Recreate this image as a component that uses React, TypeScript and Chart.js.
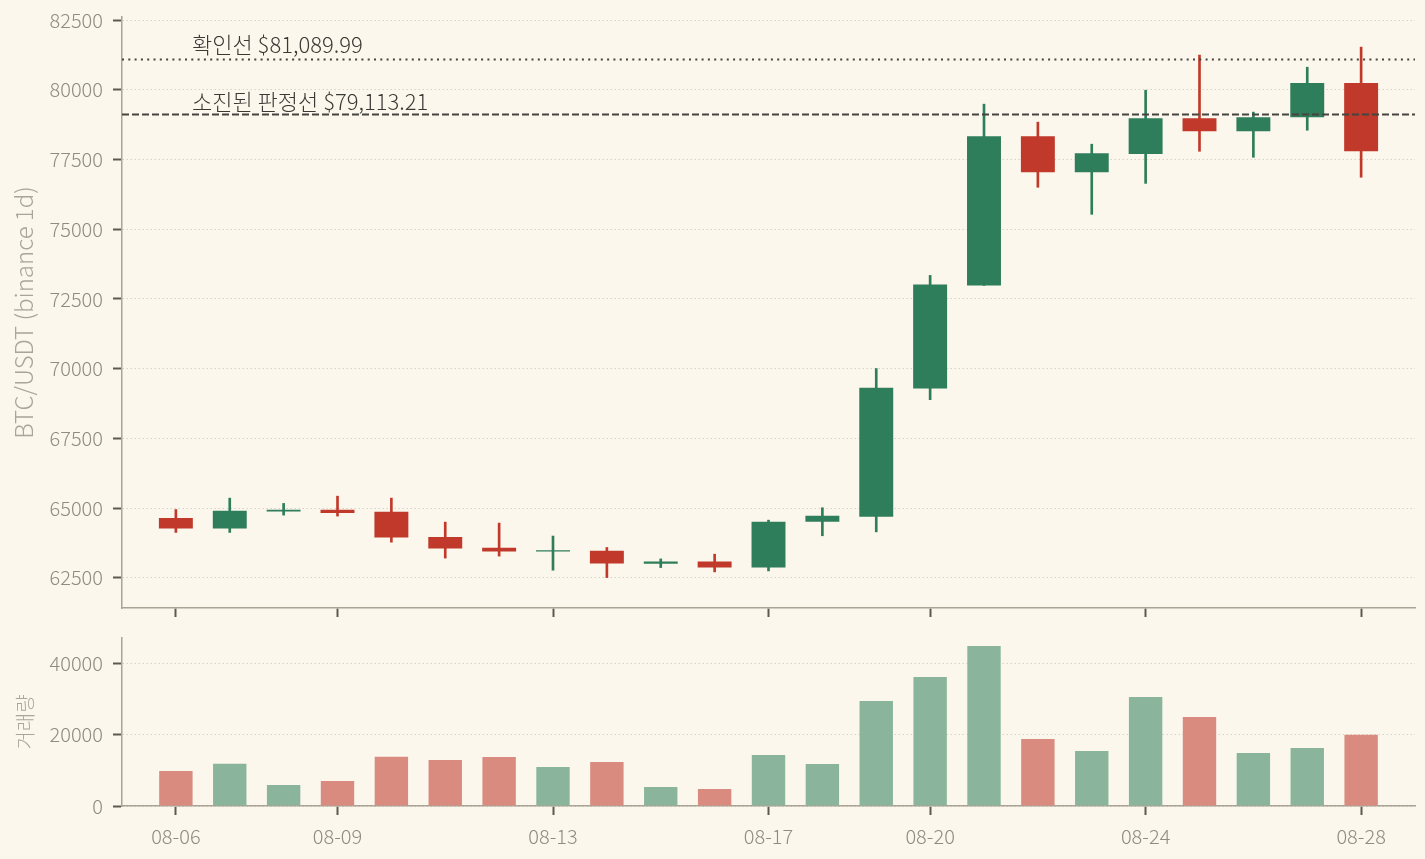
import React, { useEffect, useRef } from 'react';
import { Chart, registerables } from 'chart.js';

Chart.register(...registerables);

// ---------- data ----------
const DATES = [
  '08-06', '08-07', '08-08', '08-09', '08-10', '08-11', '08-12', '08-13',
  '08-14', '08-15', '08-16', '08-17', '08-18', '08-19', '08-20', '08-21',
  '08-22', '08-23', '08-24', '08-25', '08-26', '08-27', '08-28',
];
const OPEN = [
  64650, 64270, 64880, 64940, 64870, 63970, 63580, 63450,
  63470, 63010, 63085, 62870, 64510, 64690, 69290, 72985,
  78335, 77040, 77700, 78980, 78515, 79015, 80240,
];
const HIGH = [
  64950, 65360, 65170, 65430, 65360, 64500, 64465, 64000,
  63590, 63180, 63350, 64570, 65015, 70005, 73345, 79485,
  78840, 78050, 79985, 81245, 79200, 80810, 81530,
];
const LOW = [
  64130, 64130, 64750, 64715, 63780, 63210, 63280, 62775,
  62510, 62870, 62715, 62750, 64010, 64150, 68890, 72985,
  76505, 75535, 76645, 77795, 77580, 78550, 76865,
];
const CLOSE = [
  64270, 64905, 64940, 64830, 63950, 63550, 63445, 63490,
  63015, 63085, 62870, 64510, 64725, 69320, 73020, 78335,
  77040, 77725, 78980, 78515, 79015, 80240, 77795,
];
const VOLUME = [
  9800, 11800, 5870, 6990, 13750, 12870, 13700, 10900,
  12300, 5310, 4750, 14270, 11750, 29370, 36080, 44750,
  18740, 15380, 30490, 24900, 14830, 16250, 19900,
];
const PRICE_TICKS = [62500, 65000, 67500, 70000, 72500, 75000, 77500, 80000, 82500];
const VOLUME_TICKS = [0, 20000, 40000];
const DATE_TICKS = ['08-06', '08-09', '08-13', '08-17', '08-20', '08-24', '08-28'];

const CONFIRM_LINE = 81089.99;
const EXHAUSTED_LINE = 79113.21;
const CONFIRM_LABEL = '확인선 $81,089.99';
const EXHAUSTED_LABEL = '소진된 판정선 $79,113.21';
const PRICE_TITLE = 'BTC/USDT (binance 1d)';
const VOLUME_TITLE = '거래량';

// ---------- style ----------
const BG = '#fbf7ed';
const GREEN = '#2e7d5b';
const RED = '#c0392b';
const GREEN_VOL = '#8ab59c';
const RED_VOL = '#d98b80';
const SPINE = '#aaa495';
const TICK_MARK = '#5b5a52';
const TICK_TEXT = '#8f8c82';
const TITLE_TEXT = '#a8a59a';
const GRID = '#d8d3c6';
const LINE_DARK = '#45443f';
const FONT = "'Noto Sans CJK KR', 'Noto Sans', sans-serif";

const AXIS_W = 122;
const X_MIN = -1;
const X_MAX = DATES.length;
const LABEL_X = 0.3;

const idx = DATES.map((_, i) => i);
const isUp = idx.map((i) => CLOSE[i] >= OPEN[i]);

function xScale(showLabels: boolean, height: number) {
  return {
    type: 'linear' as const,
    min: X_MIN,
    max: X_MAX,
    offset: false,
    grid: {
      display: true,
      drawOnChartArea: false,
      offset: false,
      drawTicks: true,
      tickLength: 9,
      tickWidth: 2,
      tickColor: TICK_MARK,
      tickBorderDash: [],
    },
    border: { display: true, color: SPINE, width: 1.5 },
    afterBuildTicks: (s: any) => {
      s.ticks = DATE_TICKS.map((d) => ({ value: DATES.indexOf(d) }));
    },
    afterFit: (s: any) => {
      s.height = height;
      s.paddingLeft = 0;
      s.paddingRight = 0;
    },
    ticks: {
      autoSkip: false,
      maxRotation: 0,
      minRotation: 0,
      padding: 9,
      color: TICK_TEXT,
      font: { family: FONT, size: 20, weight: '300' },
      callback: (v: any) => (showLabels ? DATES[Number(v)] ?? '' : ''),
    },
  };
}

function yScale(min: number, max: number, tickList: number[], title: string, titleSize: number, titlePad: number) {
  return {
    type: 'linear' as const,
    min,
    max,
    beginAtZero: false,
    grid: {
      display: true,
      drawOnChartArea: true,
      color: GRID,
      lineWidth: 1,
      drawTicks: true,
      tickLength: 9,
      tickWidth: 2,
      tickColor: TICK_MARK,
      tickBorderDash: [],
    },
    border: { display: true, color: SPINE, width: 1.5, dash: [1.5, 2.5] },
    afterBuildTicks: (s: any) => {
      s.ticks = tickList.map((v) => ({ value: v }));
    },
    afterFit: (s: any) => {
      s.width = AXIS_W;
      s.paddingTop = 0;
      s.paddingBottom = 0;
    },
    ticks: {
      padding: 10,
      color: TICK_TEXT,
      font: { family: FONT, size: 20, weight: '300' },
      callback: (v: any) => String(v),
    },
    title: {
      display: true,
      text: title,
      color: TITLE_TEXT,
      font: { family: FONT, size: titleSize, weight: '300' },
      padding: { top: titlePad, bottom: 0 },
    },
  };
}

const lineLabelPlugin = {
  id: 'lineLabels',
  afterDatasetsDraw(chart: any) {
    const { ctx, scales } = chart;
    const x = scales.x;
    const y = scales.y;
    ctx.save();
    ctx.font = `300 22px ${FONT}`;
    ctx.fillStyle = '#3a3935';
    ctx.textAlign = 'left';
    ctx.textBaseline = 'alphabetic';
    ctx.fillText(CONFIRM_LABEL, x.getPixelForValue(LABEL_X), y.getPixelForValue(CONFIRM_LINE) - 6);
    ctx.fillText(EXHAUSTED_LABEL, x.getPixelForValue(LABEL_X), y.getPixelForValue(EXHAUSTED_LINE) - 5);
    ctx.restore();
  },
};

export default function App() {
  const topRef = useRef<HTMLCanvasElement | null>(null);
  const botRef = useRef<HTMLCanvasElement | null>(null);

  useEffect(() => {
    document.body.style.margin = '0';
    document.body.style.background = BG;
    const bodyColors = isUp.map((u) => (u ? GREEN : RED));
    const volColors = isUp.map((u) => (u ? GREEN_VOL : RED_VOL));

    const top = new Chart(topRef.current as HTMLCanvasElement, {
      type: 'bar',
      data: {
        datasets: [
          {
            type: 'line',
            data: [
              { x: X_MIN, y: CONFIRM_LINE },
              { x: X_MAX, y: CONFIRM_LINE },
            ],
            borderColor: LINE_DARK,
            borderWidth: 2,
            borderDash: [2, 4.3],
            pointRadius: 0,
            order: 0,
          } as any,
          {
            type: 'line',
            data: [
              { x: X_MIN, y: EXHAUSTED_LINE },
              { x: X_MAX, y: EXHAUSTED_LINE },
            ],
            borderColor: LINE_DARK,
            borderWidth: 2,
            borderDash: [7, 3],
            pointRadius: 0,
            order: 0,
          } as any,
          {
            type: 'bar',
            data: idx.map((i) => ({ x: i, y: [OPEN[i], CLOSE[i]] })),
            backgroundColor: bodyColors,
            grouped: false,
            barPercentage: 0.63,
            categoryPercentage: 1,
            borderWidth: 0,
            order: 1,
          } as any,
          {
            type: 'bar',
            data: idx.map((i) => ({ x: i, y: [LOW[i], HIGH[i]] })),
            backgroundColor: bodyColors,
            grouped: false,
            barThickness: 2,
            borderWidth: 0,
            order: 2,
          } as any,
        ],
      },
      options: {
        animation: false,
        responsive: true,
        maintainAspectRatio: false,
        events: [],
        layout: { padding: { top: 17, right: 10, left: 0, bottom: 0 } },
        plugins: { legend: { display: false }, tooltip: { enabled: false } },
        scales: {
          x: xScale(false, 17) as any,
          y: yScale(61420, 82610, PRICE_TICKS, PRICE_TITLE, 24, 9) as any,
        },
      },
      plugins: [lineLabelPlugin],
    });

    const bot = new Chart(botRef.current as HTMLCanvasElement, {
      type: 'bar',
      data: {
        datasets: [
          {
            type: 'bar',
            data: idx.map((i) => ({ x: i, y: VOLUME[i] })),
            backgroundColor: volColors,
            grouped: false,
            barPercentage: 0.62,
            categoryPercentage: 1,
            borderWidth: 0,
          } as any,
        ],
      },
      options: {
        animation: false,
        responsive: true,
        maintainAspectRatio: false,
        events: [],
        layout: { padding: { top: 13, right: 10, left: 0, bottom: 0 } },
        plugins: { legend: { display: false }, tooltip: { enabled: false } },
        scales: {
          x: xScale(true, 53) as any,
          y: yScale(0, 47000, VOLUME_TICKS, VOLUME_TITLE, 20, 13) as any,
        },
      },
    });

    return () => {
      top.destroy();
      bot.destroy();
    };
  }, []);

  return (
    <div style={{ position: 'absolute', left: 0, top: 0, width: 1425, height: 859, background: BG }}>
      <div style={{ position: 'relative', width: 1425, height: 625 }}>
        <canvas ref={topRef} />
      </div>
      <div style={{ position: 'relative', width: 1425, height: 234 }}>
        <canvas ref={botRef} />
      </div>
    </div>
  );
}
